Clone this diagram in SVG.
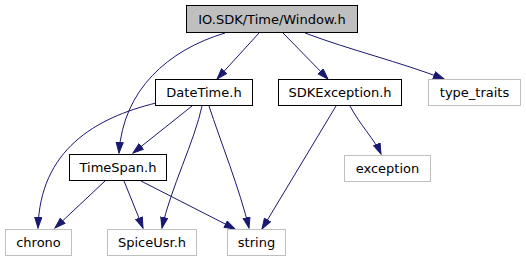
<svg xmlns="http://www.w3.org/2000/svg" width="526" height="261" viewBox="0 0 526 261">
  <style>
    .node rect { fill: #ffffff; stroke: #000000; stroke-width: 1; }
    .node.ext rect { stroke: #bfbfbf; }
    .node.root rect { fill: #bfbfbf; }
    .node text { font-family: "DejaVu Sans", "Liberation Sans", sans-serif; font-size: 13px; fill: #000000; text-anchor: middle; }
    .edges path { fill: none; stroke: #191970; stroke-width: 1; marker-end: url(#arrow); }
  </style>
  <defs>
    <marker id="arrow" markerUnits="userSpaceOnUse" markerWidth="12" markerHeight="9" refX="11" refY="4" orient="auto">
      <path d="M0.5,0.5 L11,4 L0.5,7.5 z" fill="#191970" stroke="#191970" stroke-width="1"/>
    </marker>
  </defs>
  <rect width="526" height="261" fill="#ffffff"/>

  <g class="edges">
    <path d="M259,33 L217,79"/>
    <path d="M225,33 C168,50 123,90 119,153"/>
    <path d="M283,33 L328,79"/>
    <path d="M305,33 C350,50 400,62 444,79"/>
    <path d="M192,106 L133,153"/>
    <path d="M156,103 C95,118 40,150 38,228"/>
    <path d="M202,106 C195,140 170,190 162,228"/>
    <path d="M209,106 C220,140 240,190 249,228"/>
    <path d="M105,181 L55,228"/>
    <path d="M124,181 L143,228"/>
    <path d="M141,181 L235,229"/>
    <path d="M336,106 L262,229"/>
    <path d="M350,106 C360,125 375,140 381,154"/>
  </g>

  <g id="node-window" class="node root">
    <rect x="186.5" y="5.5" width="171" height="27"/>
    <text x="272" y="24">IO.SDK/Time/Window.h</text>
  </g>
  <g id="node-datetime" class="node">
    <rect x="155.5" y="79.5" width="97" height="26"/>
    <text x="204" y="97">DateTime.h</text>
  </g>
  <g id="node-sdkexception" class="node">
    <rect x="278.5" y="79.5" width="123" height="26"/>
    <text x="340" y="97">SDKException.h</text>
  </g>
  <g id="node-type-traits" class="node ext">
    <rect x="428.5" y="79.5" width="92" height="26"/>
    <text x="474.5" y="97">type_traits</text>
  </g>
  <g id="node-timespan" class="node">
    <rect x="69.5" y="154.5" width="97" height="26"/>
    <text x="118" y="172">TimeSpan.h</text>
  </g>
  <g id="node-exception" class="node ext">
    <rect x="344.5" y="155.5" width="86" height="26"/>
    <text x="387.5" y="173">exception</text>
  </g>
  <g id="node-chrono" class="node ext">
    <rect x="5.5" y="229.5" width="66" height="26"/>
    <text x="38.5" y="247">chrono</text>
  </g>
  <g id="node-spiceusr" class="node ext">
    <rect x="107.5" y="229.5" width="89" height="26"/>
    <text x="152" y="247">SpiceUsr.h</text>
  </g>
  <g id="node-string" class="node ext">
    <rect x="227.5" y="229.5" width="58" height="26"/>
    <text x="256.5" y="247">string</text>
  </g>
</svg>
